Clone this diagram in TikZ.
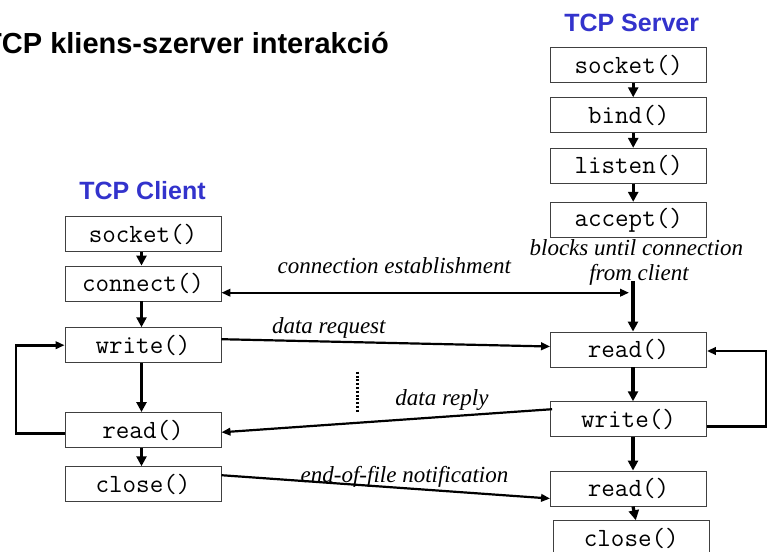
\documentclass[tikz,border=0pt]{standalone}
\usepackage{fontspec}
\setmainfont{Liberation Serif}
\setsansfont{Liberation Sans}
\usetikzlibrary{arrows.meta,calc}
\definecolor{titleblue}{HTML}{3333CC}
\tikzset{
  fnbox/.style={draw=black!75, line width=0.9pt, minimum width=156pt, minimum height=35pt, inner sep=0pt,
    font=\ttfamily\fontsize{26.3}{28}\selectfont},
  flow/.style={line width=3.2pt, -{Triangle[length=10pt,width=10pt]}},
  msg/.style={line width=2.2pt, -{Triangle[length=9pt,width=7.5pt]}},
  loopline/.style={line width=2.6pt, -{Triangle[length=9pt,width=7.5pt]}},
  lbl/.style={font=\itshape\fontsize{23}{27}\selectfont, inner sep=0pt, anchor=base},
  head/.style={font=\sffamily\bfseries\fontsize{25}{30}\selectfont, text=titleblue, inner sep=0pt, anchor=base}
}
\begin{document}
\begin{tikzpicture}[x=1pt,y=-1pt]
\useasboundingbox (0,0) rectangle (767,551);
% title
\node[font=\sffamily\bfseries\fontsize{29}{34}\selectfont, inner sep=0pt, anchor=base east] (title) at (389,53.3) {TCP kliens-szerver interakció};
\node[head] (chead) at (142.5,199.3) {TCP Client};
\node[head] (shead) at (631.7,31.7) {TCP Server};
% client boxes
\node[fnbox] (csock) at (143,234.2) {socket()};
\node[fnbox] (cconn) at (143,283.5) {connect()};
\node[fnbox] (cwrite) at (143,345.2) {write()};
\node[fnbox] (cread) at (143,430) {read()};
\node[fnbox] (cclose) at (143,484.2) {close()};
% server boxes
\node[fnbox] (ssock) at (628.7,65.2) {socket()};
\node[fnbox] (sbind) at (628.7,115.2) {bind()};
\node[fnbox] (slisten) at (628.7,165.8) {listen()};
\node[fnbox] (saccept) at (628.7,219.8) {accept()};
\node[fnbox] (sread) at (628.5,349.5) {read()};
\node[fnbox] (swrite) at (628.5,419.2) {write()};
\node[fnbox] (sread2) at (628.5,488.5) {read()};
\node[fnbox] (sclose) at (631.3,538.2) {close()};
% labels
\node[lbl] (lblock) at (636.3,255) {blocks until connection};
\node[lbl] (lfrom) at (639,280) {from client};
\node[lbl] (lconn) at (394.3,273.3) {connection establishment};
\node[lbl] (lreq) at (328.8,333) {data request};
\node[lbl] (lrep) at (442,405) {data reply};
\node[lbl] (leof) at (404.5,482.3) {end-of-file notification};
% client flow
\draw[flow] ([xshift=-1.5pt]csock.south) -- ([xshift=-1.5pt]cconn.north);
\draw[flow] ([xshift=-1.5pt]cconn.south) -- ([xshift=-1.5pt]cwrite.north);
\draw[flow] ([xshift=-1.5pt]cwrite.south) -- ([xshift=-1.5pt]cread.north);
\draw[flow] ([xshift=-1.5pt]cread.south) -- ([xshift=-1.5pt]cclose.north);
% server flow
\draw[flow] ([xshift=4.5pt]ssock.south) -- ([xshift=4.5pt]sbind.north);
\draw[flow] ([xshift=4.5pt]sbind.south) -- ([xshift=4.5pt]slisten.north);
\draw[flow] ([xshift=4.5pt]slisten.south) -- ([xshift=4.5pt]saccept.north);
\draw[flow] ([xshift=4.5pt]sread.south) -- ([xshift=4.5pt]swrite.north);
\draw[flow] ([xshift=4.5pt]swrite.south) -- ([xshift=4.5pt]sread2.north);
\draw[flow] ([xshift=4.5pt]sread2.south) -- ([xshift=4.5pt]sclose.north);
\coordinate (vtop) at (633,281);
\draw[flow] (vtop) -- (vtop |- sread.north);
% connection establishment
\coordinate (connend) at (629,292.7);
\draw[line width=2.2pt, {Triangle[length=9pt,width=7.5pt]}-{Triangle[length=9pt,width=7.5pt]}] (cconn.east |- connend) -- (connend);
% messages
\draw[msg] ([yshift=6pt]cwrite.east) -- ([yshift=3pt]sread.west);
\draw[msg] ([yshift=10pt,xshift=2pt]swrite.west) -- ([yshift=-2.3pt]cread.east);
\draw[msg] ([yshift=9pt]cclose.east) -- ([yshift=-10pt]sread2.west);
% loops
\coordinate (cl) at (16,0);
\draw[loopline] ([yshift=-3.3pt]cread.west) -| (cl |- cwrite.west) -- (cwrite.west);
\coordinate (sl) at (766,0);
\coordinate (sreadin) at ([yshift=-1.5pt]sread.east);
\draw[loopline] ([yshift=-7pt]swrite.east) -| (sl |- sreadin) -- (sreadin);
% dotted separator
\coordinate (d1) at (357.7,371.7);
\coordinate (d2) at (357.7,413.3);
\draw[line width=2.6pt, dash pattern=on 2pt off 1.8pt] (d1) -- (d2);
\end{tikzpicture}
\end{document}
